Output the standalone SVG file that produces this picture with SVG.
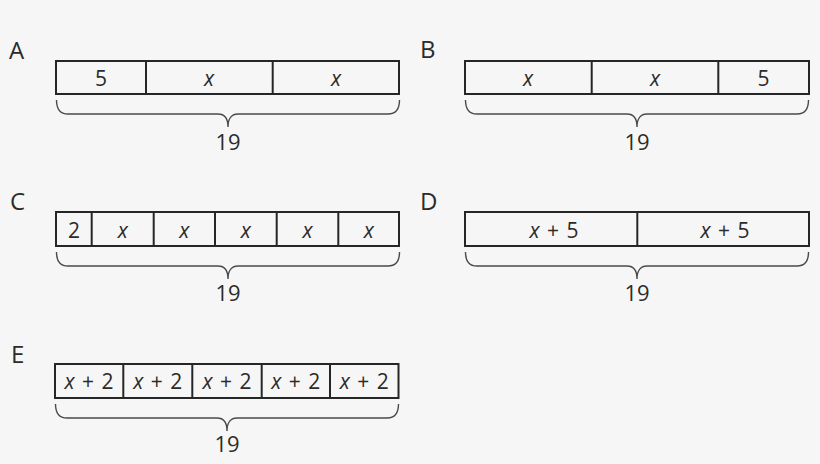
<svg xmlns="http://www.w3.org/2000/svg" width="820" height="464" viewBox="0 0 820 464">
<style>
text{font-family:"Open Sans","Liberation Sans",sans-serif;fill:#2b2b2b}
.lab{font-size:24px}
.v{font-size:21px;text-anchor:middle;word-spacing:2px}
.i{font-style:italic}
.sum{font-size:22px;text-anchor:middle}
.box{fill:none;stroke:#262626;stroke-width:2}
.div{stroke:#262626;stroke-width:2}
.brace{fill:none;stroke:#4a4a4a;stroke-width:1.4}
</style>
<defs>
<path id="br" class="brace" d="M0.5,0 C0.5,9 4,14 12,14 H162 C168,14 172,18 172,27 C172,18 176,14 182,14 H332 C340,14 343.5,9 343.5,0"/>
</defs>
<rect width="820" height="464" fill="#f6f6f6"/>
<g id="A">
<text class="lab" x="9" y="59">A</text>
<rect class="box" x="56" y="61" width="343" height="33"/>
<line class="div" x1="146" y1="61" x2="146" y2="94"/>
<line class="div" x1="272.7" y1="61" x2="272.7" y2="94"/>
<text class="v" x="101" y="85.5">5</text>
<text class="v i" x="209" y="85.5">x</text>
<text class="v i" x="336" y="85.5">x</text>
<use href="#br" x="56" y="100"/>
<text class="sum" x="228" y="149.5">19</text>
</g>
<g id="B">
<text class="lab" x="420" y="58">B</text>
<rect class="box" x="465" y="61" width="344" height="33"/>
<line class="div" x1="591.7" y1="61" x2="591.7" y2="94"/>
<line class="div" x1="718.3" y1="61" x2="718.3" y2="94"/>
<text class="v i" x="528" y="85.5">x</text>
<text class="v i" x="655" y="85.5">x</text>
<text class="v" x="763.6" y="85.5">5</text>
<use href="#br" x="465" y="100"/>
<text class="sum" x="637" y="149.5">19</text>
</g>
<g id="C">
<text class="lab" x="10" y="210">C</text>
<rect class="box" x="56" y="212" width="343" height="34"/>
<line class="div" x1="91.7" y1="212" x2="91.7" y2="246"/>
<line class="div" x1="153.7" y1="212" x2="153.7" y2="246"/>
<line class="div" x1="215" y1="212" x2="215" y2="246"/>
<line class="div" x1="276.7" y1="212" x2="276.7" y2="246"/>
<line class="div" x1="338.3" y1="212" x2="338.3" y2="246"/>
<text class="v" x="74" y="237.5">2</text>
<text class="v i" x="122.7" y="237.5">x</text>
<text class="v i" x="184.3" y="237.5">x</text>
<text class="v i" x="245.8" y="237.5">x</text>
<text class="v i" x="307.5" y="237.5">x</text>
<text class="v i" x="368.8" y="237.5">x</text>
<use href="#br" x="56" y="252"/>
<text class="sum" x="228" y="301">19</text>
</g>
<g id="D">
<text class="lab" x="420" y="210">D</text>
<rect class="box" x="465" y="212" width="344" height="34"/>
<line class="div" x1="637.3" y1="212" x2="637.3" y2="246"/>
<text class="v" x="554" y="238"><tspan class="i">x</tspan> + 5</text>
<text class="v" x="725" y="238"><tspan class="i">x</tspan> + 5</text>
<use href="#br" x="465" y="252"/>
<text class="sum" x="637" y="301">19</text>
</g>
<g id="E">
<text class="lab" x="11" y="362.5">E</text>
<rect class="box" x="55" y="364" width="343.5" height="34"/>
<line class="div" x1="123.3" y1="364" x2="123.3" y2="398"/>
<line class="div" x1="192.3" y1="364" x2="192.3" y2="398"/>
<line class="div" x1="261.7" y1="364" x2="261.7" y2="398"/>
<line class="div" x1="330" y1="364" x2="330" y2="398"/>
<text class="v" x="89" y="389"><tspan class="i">x</tspan> + 2</text>
<text class="v" x="157.8" y="389"><tspan class="i">x</tspan> + 2</text>
<text class="v" x="227" y="389"><tspan class="i">x</tspan> + 2</text>
<text class="v" x="295.8" y="389"><tspan class="i">x</tspan> + 2</text>
<text class="v" x="364.2" y="389"><tspan class="i">x</tspan> + 2</text>
<use href="#br" x="55" y="404"/>
<text class="sum" x="227" y="452">19</text>
</g>
<g id="connectors"></g>
</svg>
